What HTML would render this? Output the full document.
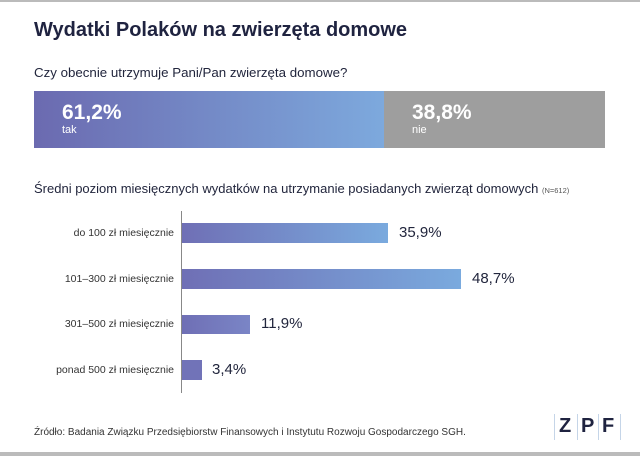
<!DOCTYPE html>
<html><head><meta charset="utf-8"><style>
body{margin:0;width:640px;height:456px;background:#fff;position:relative;overflow:hidden;font-family:"Liberation Sans",sans-serif;color:#22263d}
.a{position:absolute;white-space:nowrap}
.bar{position:absolute;background:linear-gradient(90deg,#6f6fb5,#7aaade)}
.lab{position:absolute;right:466px;font-size:10.5px;color:#333;text-align:right;white-space:nowrap}
.val{position:absolute;font-size:15px;color:#22263d}
</style></head><body>
<div class="a" style="left:0;top:0;width:640px;height:2px;background:#bbb"></div>
<div class="a" style="left:34px;top:19px;font-size:20px;font-weight:bold;color:#1f2340">Wydatki Polaków na zwierzęta domowe</div>
<div class="a" style="left:34px;top:65px;font-size:13.3px">Czy obecnie utrzymuje Pani/Pan zwierzęta domowe?</div>
<div class="a" style="left:34px;top:91px;width:350px;height:57px;background:linear-gradient(90deg,#6b6ab0,#7da9dd)"></div>
<div class="a" style="left:384px;top:91px;width:221px;height:57px;background:#9e9e9e"></div>
<div class="a" style="left:62px;top:101px;font-size:21px;font-weight:bold;color:#fff">61,2%</div>
<div class="a" style="left:62px;top:124px;font-size:11px;color:#fff">tak</div>
<div class="a" style="left:412px;top:101px;font-size:21px;font-weight:bold;color:#fff">38,8%</div>
<div class="a" style="left:412px;top:124px;font-size:11px;color:#fff">nie</div>
<div class="a" style="left:34px;top:181px;font-size:13px">Średni poziom miesięcznych wydatków na utrzymanie posiadanych zwierząt domowych <span style="font-size:7.5px;color:#555">(N=612)</span></div>
<div class="a" style="left:181px;top:211px;width:1px;height:182px;background:#888"></div>
<div class="bar" style="left:182px;top:223px;width:206px;height:20px"></div>
<div class="bar" style="left:182px;top:269px;width:279px;height:20px"></div>
<div class="bar" style="left:182px;top:315px;width:68px;height:19px;background:linear-gradient(90deg,#6f6fb5,#7a85c6)"></div>
<div class="bar" style="left:182px;top:360px;width:20px;height:20px;background:#7173b8"></div>
<div class="lab" style="top:227px">do 100 zł miesięcznie</div>
<div class="lab" style="top:273px">101–300 zł miesięcznie</div>
<div class="lab" style="top:318px">301–500 zł miesięcznie</div>
<div class="lab" style="top:364px">ponad 500 zł miesięcznie</div>
<div class="val" style="left:399px;top:224px">35,9%</div>
<div class="val" style="left:472px;top:270px">48,7%</div>
<div class="val" style="left:261px;top:315px">11,9%</div>
<div class="val" style="left:212px;top:361px">3,4%</div>
<div class="a" style="left:34px;top:427px;font-size:10px;color:#333">Źródło: Badania Związku Przedsiębiorstw Finansowych i Instytutu Rozwoju Gospodarczego SGH.</div>
<div class="a" style="left:554px;top:414px;width:1px;height:26px;background:#c5d5e8"></div>
<div class="a" style="left:559px;top:415px;font-size:20px;font-weight:bold;color:#1f2340">Z</div>
<div class="a" style="left:577px;top:414px;width:1px;height:26px;background:#c5d5e8"></div>
<div class="a" style="left:581px;top:415px;font-size:20px;font-weight:bold;color:#1f2340">P</div>
<div class="a" style="left:598px;top:414px;width:1px;height:26px;background:#c5d5e8"></div>
<div class="a" style="left:602px;top:415px;font-size:20px;font-weight:bold;color:#1f2340">F</div>
<div class="a" style="left:620px;top:414px;width:1px;height:26px;background:#c5d5e8"></div>
<div class="a" style="left:0;top:452px;width:640px;height:4px;background:#bbb"></div>
</body></html>
